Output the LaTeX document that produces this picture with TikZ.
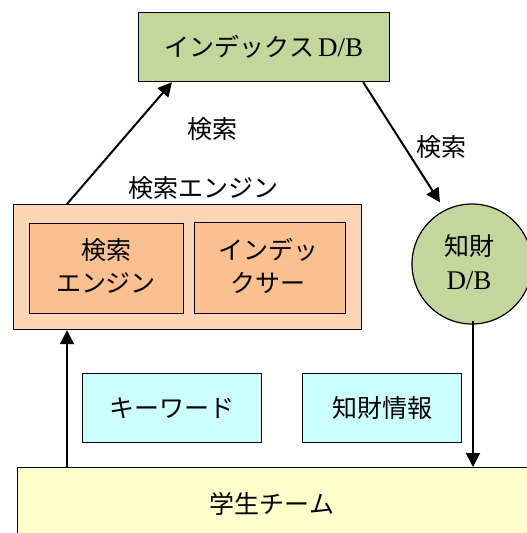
\documentclass[tikz,border=0pt]{standalone}
\usepackage{fontspec}
\setmainfont{Liberation Serif}
\newfontfamily\jp{Noto Sans CJK JP}
\usetikzlibrary{arrows.meta,calc}
\definecolor{idxgreen}{HTML}{C3D69B}
\definecolor{engouter}{HTML}{FCD5B5}
\definecolor{enginner}{HTML}{FAC090}
\definecolor{infocyan}{HTML}{CCFFFF}
\definecolor{teamyellow}{HTML}{FFFFCC}
\tikzset{
  box/.style={draw=black, line width=1.2pt, inner sep=0pt, anchor=north west},
  txt/.style={font=\fontsize{25}{33}\selectfont\jp, align=center, inner sep=0pt},
  conn/.style={line width=2pt, -{Triangle[length=14pt,width=14pt]}},
}
\begin{document}
\begin{tikzpicture}[x=1pt,y=-1pt]
\useasboundingbox (0,0) rectangle (527,533);
% index D/B
\node[box, fill=idxgreen, minimum width=251pt, minimum height=69pt] (idx) at (138,12) {};
\node[txt] (idxt) at (264,47) {インデックス\,{\rmfamily\fontsize{27}{30}\selectfont D/B}};
% engine outer
\node[box, fill=engouter, minimum width=348pt, minimum height=125pt] (eng) at (13,204) {};
\node[txt] (englbl) at (203,188) {検索エンジン};
\node[box, fill=enginner, minimum width=154pt, minimum height=90pt] (in1) at (29,223) {};
\node[txt] (in1t) at (106,266) {検索\\エンジン};
\node[box, fill=enginner, minimum width=151pt, minimum height=91pt] (in2) at (194,222) {};
\node[txt] (in2t) at (268,266) {インデッ\\クサー};
% circle
\node[draw=black, line width=1.2pt, fill=idxgreen, circle, minimum size=120pt, inner sep=0pt] (kz) at (472,264) {};
\node[txt, font=\fontsize{25}{34}\selectfont] (kzt) at (469,262) {{\jp 知財}\\{\fontsize{27}{30}\selectfont D/B}};
% info boxes
\node[box, fill=infocyan, minimum width=179pt, minimum height=69pt] (kw) at (82,373) {};
\node[txt] (kwt) at (172,408) {キーワード};
\node[box, fill=infocyan, minimum width=159pt, minimum height=69pt] (ip) at (302,373) {};
\node[txt] (ipt) at (382,408) {知財情報};
% team
\node[box, fill=teamyellow, minimum width=530pt, minimum height=80pt] (team) at (17,467) {};
\node[txt] (teamt) at (272,504) {学生チーム};
% labels
\node[txt] (l1) at (212,129) {検索};
\node[txt] (l2) at (441,147) {検索};
% connectors
\draw[conn] ([xshift=54pt]eng.north west) -- ([xshift=34pt]idx.south west);
\draw[conn] ([xshift=-27pt]idx.south east) -- ([xshift=-32pt,yshift=1pt]kz.north);
\draw[conn] ([xshift=1pt,yshift=4pt]kz.south) -- ([xshift=1pt]kz.south |- team.north);
\draw[conn] ([xshift=50pt]team.north west) -- ([xshift=54pt]eng.south west);
\end{tikzpicture}
\end{document}
